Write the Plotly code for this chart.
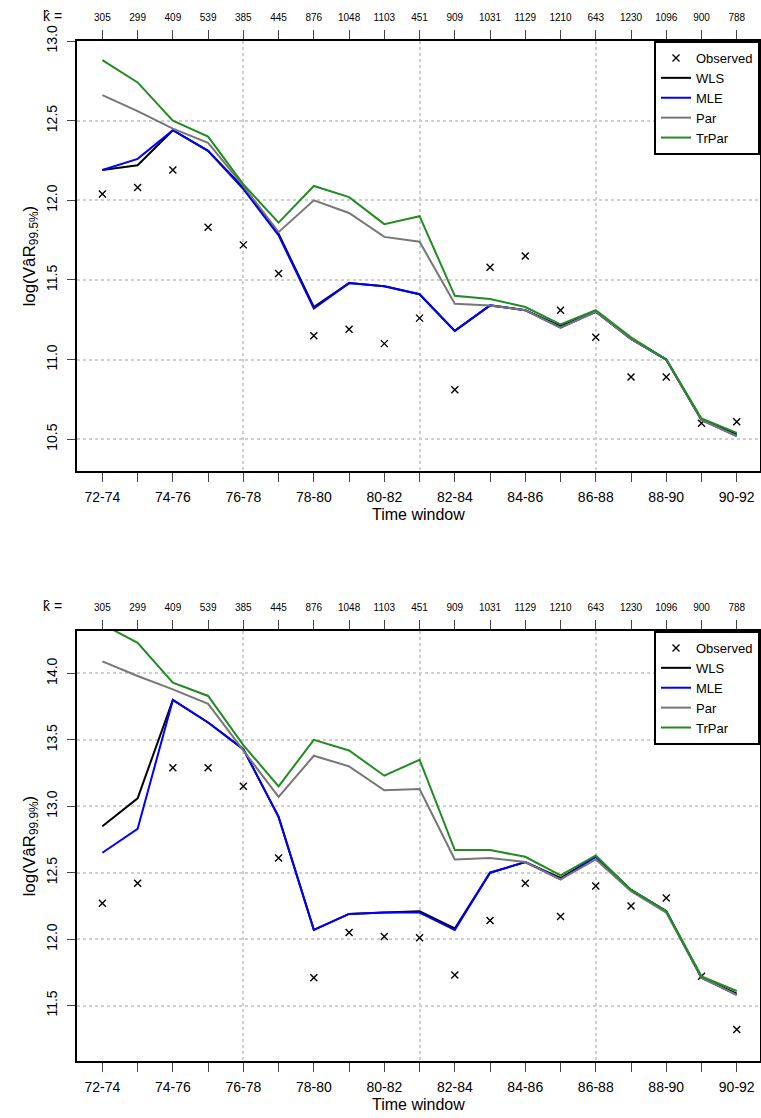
import plotly.graph_objects as go

windows = [f"{y}-{y + 2}" for y in range(72, 91)]
k_hat = [305, 299, 409, 539, 385, 445, 876, 1048, 1103, 451,
         909, 1031, 1129, 1210, 643, 1230, 1096, 900, 788]

# 99.5% panel
obs1 = [12.04, 12.08, 12.19, 11.83, 11.72, 11.54, 11.15, 11.19, 11.10, 11.26,
        10.81, 11.58, 11.65, 11.31, 11.14, 10.89, 10.89, 10.60, 10.61]
wls1 = [12.19, 12.22, 12.44, 12.31, 12.08, 11.79, 11.33, 11.48, 11.46, 11.41,
        11.18, 11.34, 11.31, 11.21, 11.30, 11.13, 11.00, 10.62, 10.53]
mle1 = [12.19, 12.26, 12.44, 12.31, 12.07, 11.78, 11.32, 11.48, 11.46, 11.41,
        11.18, 11.34, 11.31, 11.20, 11.30, 11.13, 11.00, 10.62, 10.52]
par1 = [12.66, 12.56, 12.45, 12.36, 12.09, 11.80, 12.00, 11.92, 11.77, 11.74,
        11.35, 11.34, 11.31, 11.20, 11.30, 11.13, 11.00, 10.62, 10.52]
trpar1 = [12.88, 12.74, 12.50, 12.40, 12.10, 11.86, 12.09, 12.02, 11.85, 11.90,
          11.40, 11.38, 11.33, 11.22, 11.31, 11.14, 11.00, 10.63, 10.54]

# 99.9% panel
obs2 = [12.27, 12.42, 13.29, 13.29, 13.15, 12.61, 11.71, 12.05, 12.02, 12.01,
        11.73, 12.14, 12.42, 12.17, 12.40, 12.25, 12.31, 11.72, 11.32]
wls2 = [12.85, 13.06, 13.80, 13.63, 13.43, 12.92, 12.07, 12.19, 12.20, 12.21,
        12.08, 12.50, 12.58, 12.46, 12.62, 12.37, 12.21, 11.71, 11.59]
mle2 = [12.65, 12.83, 13.80, 13.63, 13.43, 12.92, 12.07, 12.19, 12.20, 12.20,
        12.07, 12.50, 12.58, 12.45, 12.62, 12.37, 12.21, 11.71, 11.58]
par2 = [14.09, 13.98, 13.88, 13.77, 13.42, 13.07, 13.38, 13.30, 13.12, 13.13,
        12.60, 12.61, 12.58, 12.45, 12.60, 12.36, 12.20, 11.71, 11.58]
trpar2 = [14.37, 14.23, 13.93, 13.83, 13.46, 13.15, 13.50, 13.42, 13.23, 13.35,
          12.67, 12.67, 12.62, 12.48, 12.63, 12.37, 12.21, 11.72, 11.61]

FONT = "Liberation Sans, Arial, sans-serif"
idx = list(range(len(windows)))
colors = {"WLS": "black", "MLE": "#0000ff", "Par": "#777777", "TrPar": "#228b22"}

fig = go.Figure()


def add_panel(xa, ya, legend, obs, series):
    fig.add_trace(go.Scatter(
        x=idx, y=obs, mode="markers", name="Observed",
        marker=dict(symbol="x-thin-open", size=7, color="black",
                    line=dict(width=1.4, color="black")),
        xaxis=xa, yaxis=ya, legend=legend))
    for name, vals in series:
        fig.add_trace(go.Scatter(
            x=idx, y=vals, mode="lines", name=name,
            line=dict(color=colors[name], width=2),
            xaxis=xa, yaxis=ya, legend=legend))


add_panel("x", "y", "legend", obs1,
          [("WLS", wls1), ("MLE", mle1), ("Par", par1), ("TrPar", trpar1)])
add_panel("x2", "y2", "legend2", obs2,
          [("WLS", wls2), ("MLE", mle2), ("Par", par2), ("TrPar", trpar2)])

xrange = [-0.72, 18.66]
top_dom = [0.5784, 1.0]
bot_dom = [0.0, 0.4216]
grid = dict(gridcolor="#cfcfcf", griddash="dot", gridwidth=1.5)


def bottom_axis(anchor):
    # labels on every second window, tick marks on all of them
    return dict(range=xrange, anchor=anchor, tickvals=idx[::2], ticktext=windows[::2],
                ticks="outside", ticklen=9, tickcolor="#444", tickwidth=1,
                minor=dict(tickvals=idx, ticks="outside", ticklen=9,
                           tickcolor="#444", tickwidth=1, showgrid=False),
                showline=True, linecolor="black", linewidth=2, automargin=False,
                showgrid=False, zeroline=False, ticklabelstandoff=3,
                tickfont=dict(size=14, color="black", family=FONT))


def top_axis(over, anchor):
    return dict(range=xrange, overlaying=over, anchor=anchor, side="top",
                tickvals=idx, ticktext=[str(k) for k in k_hat],
                ticks="outside", ticklen=9, tickcolor="#444", tickwidth=1,
                showline=True, linecolor="black", linewidth=2, automargin=False,
                showgrid=False, zeroline=False, ticklabelstandoff=5,
                tickfont=dict(size=10, color="black", family=FONT))


def grid_axis(over, anchor):
    return dict(range=xrange, overlaying=over, anchor=anchor,
                tickvals=[4, 9, 14], showticklabels=False, ticks="",
                automargin=False, showgrid=True, zeroline=False,
                showline=False, **grid)


def y_axis(dom, rng, tv, anchor):
    return dict(domain=dom, range=rng, anchor=anchor, tickvals=tv,
                ticktext=[f"{v:.1f}" for v in tv], tickangle=-90,
                ticks="outside", ticklen=8, tickcolor="#444", tickwidth=1,
                showline=True, mirror=True, linecolor="black", linewidth=2,
                automargin=False, showgrid=True, zeroline=False,
                ticklabelstandoff=4,
                tickfont=dict(size=14, color="black", family=FONT), **grid)


legend_style = dict(x=1, xanchor="right", yanchor="top", bgcolor="white",
                    bordercolor="black", borderwidth=2,
                    font=dict(size=13, color="black", family=FONT),
                    tracegroupgap=0, itemwidth=30)

fig.update_layout(
    width=761, height=1118,
    margin=dict(l=77, r=1, t=41, b=57),
    plot_bgcolor="white", paper_bgcolor="white",
    font=dict(family=FONT, color="black"),
    xaxis=bottom_axis("y"),
    xaxis2=bottom_axis("y2"),
    xaxis3=top_axis("x", "y"),
    xaxis4=top_axis("x2", "y2"),
    xaxis5=grid_axis("x", "y"),
    xaxis6=grid_axis("x2", "y2"),
    yaxis=y_axis(top_dom, [10.3, 13.0], [10.5, 11.0, 11.5, 12.0, 12.5, 13.0], "x"),
    yaxis2=y_axis(bot_dom, [11.083, 14.319], [11.5, 12.0, 12.5, 13.0, 13.5, 14.0], "x2"),
    legend=dict(y=top_dom[1], **legend_style),
    legend2=dict(y=bot_dom[1], **legend_style),
    showlegend=True,
)

# invisible dummy traces so the overlay axes are drawn
for xa, ya in [("x3", "y"), ("x4", "y2"), ("x5", "y"), ("x6", "y2")]:
    fig.add_trace(go.Scatter(x=[None], y=[None], xaxis=xa, yaxis=ya,
                             showlegend=False, hoverinfo="skip"))

# axis titles
for ydom, label in [(top_dom, "99.5%"), (bot_dom, "99.9%")]:
    fig.add_annotation(
        text=f"log(Va\u0302R<sub>{label}</sub>)", textangle=-90,
        xref="paper", yref="paper", x=-0.068, y=(ydom[0] + ydom[1]) / 2,
        xanchor="center", yanchor="middle", showarrow=False,
        font=dict(size=17, family=FONT, color="black"))
    fig.add_annotation(
        text="Time window", xref="paper", yref="paper", x=0.5,
        y=ydom[0], yshift=-43, xanchor="center", yanchor="middle",
        showarrow=False, font=dict(size=16, family=FONT, color="black"))
    fig.add_annotation(
        text="k\u0302 =", xref="paper", yref="paper", x=-0.036, y=ydom[1],
        yshift=25, xanchor="center", yanchor="middle", showarrow=False,
        font=dict(size=14, family=FONT, color="black"))

# drop the browser's default 8px body margin so the figure sits at (0, 0)
fig.write_html("out.html", config={"displayModeBar": False},
               post_script="document.body.style.margin='0';")
